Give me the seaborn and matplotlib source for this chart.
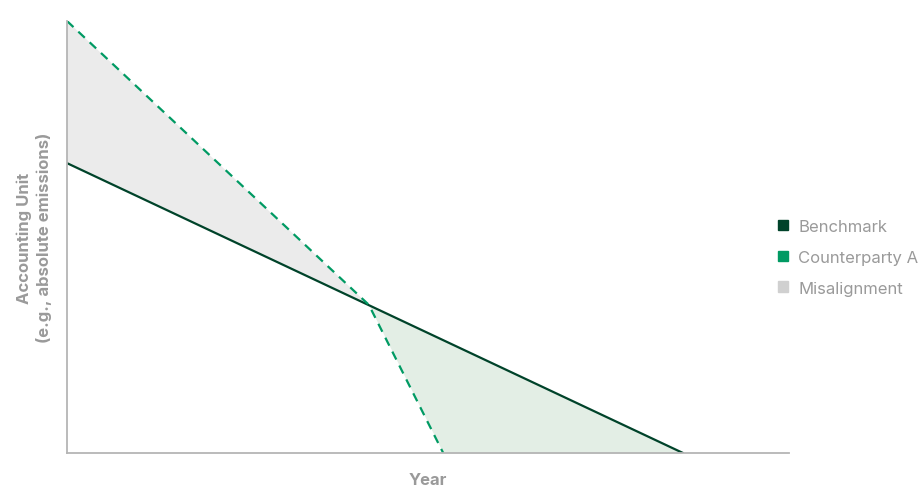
import numpy as np
import pandas as pd
import matplotlib.pyplot as plt
import seaborn as sns
from matplotlib.patches import Patch

# data (relative units, no tick labels in the original)
bench_x = [0, 85.3]
bench_y = [67.1, 0]
cp_x = [0, 41.8, 52.1]
cp_y = [100, 34.3, 0]
labels = ["Benchmark", "Counterparty A", "Misalignment"]

dark_green = "#00432a"
mid_green = "#009a63"
grey_fill = "#ebebeb"
green_fill = "#e3eee5"
text_grey = "#9a9a9a"

sns.set_theme(style="white")
plt.rcParams["font.family"] = ["Inter", "DejaVu Sans"]

bench = pd.DataFrame({"x": bench_x, "y": bench_y})
cp = pd.DataFrame({"x": cp_x, "y": cp_y})

fig = plt.figure(figsize=(9.24, 4.89), dpi=100)
ax = fig.add_axes([0.0725, 0.0716, 0.7815, 0.8834])

# shading between the two paths
xs = np.array(sorted(set(bench_x + cp_x)))
b = np.interp(xs, bench_x, bench_y, right=0)
c = np.interp(xs, cp_x, cp_y, right=0)
ax.fill_between(xs, b, c, where=c >= b, interpolate=True, color=grey_fill, lw=0)
ax.fill_between(xs, b, c, where=b >= c, interpolate=True, color=green_fill, lw=0)

sns.lineplot(data=bench, x="x", y="y", ax=ax, color=dark_green, lw=1.6)
sns.lineplot(data=cp, x="x", y="y", ax=ax, color=mid_green, lw=1.6,
             linestyle=(0, (4, 3)))

ax.set_xlim(0, 100)
ax.set_ylim(0, 100)
ax.set_xticks([])
ax.set_yticks([])
sns.despine(ax=ax)
for s in ["left", "bottom"]:
    ax.spines[s].set_color("#b5b5b5")
    ax.spines[s].set_linewidth(1.3)

ax.set_xlabel("Year", fontsize=12, fontweight="bold", color=text_grey, labelpad=14)
ax.set_ylabel("Accounting Unit\n(e.g., absolute emissions)", fontsize=12,
              fontweight="bold", color=text_grey, labelpad=11, linespacing=1.3)

handles = [Patch(color=dark_green), Patch(color=mid_green), Patch(color="#d0d0d0")]
leg = fig.legend(handles, labels, loc="center left", bbox_to_anchor=(0.826, 0.472),
                 frameon=False, fontsize=12, handlelength=0.6, handleheight=0.6,
                 handletextpad=0.6, labelspacing=0.95)
for t in leg.get_texts():
    t.set_color(text_grey)

fig.savefig("out.png", dpi=100)
